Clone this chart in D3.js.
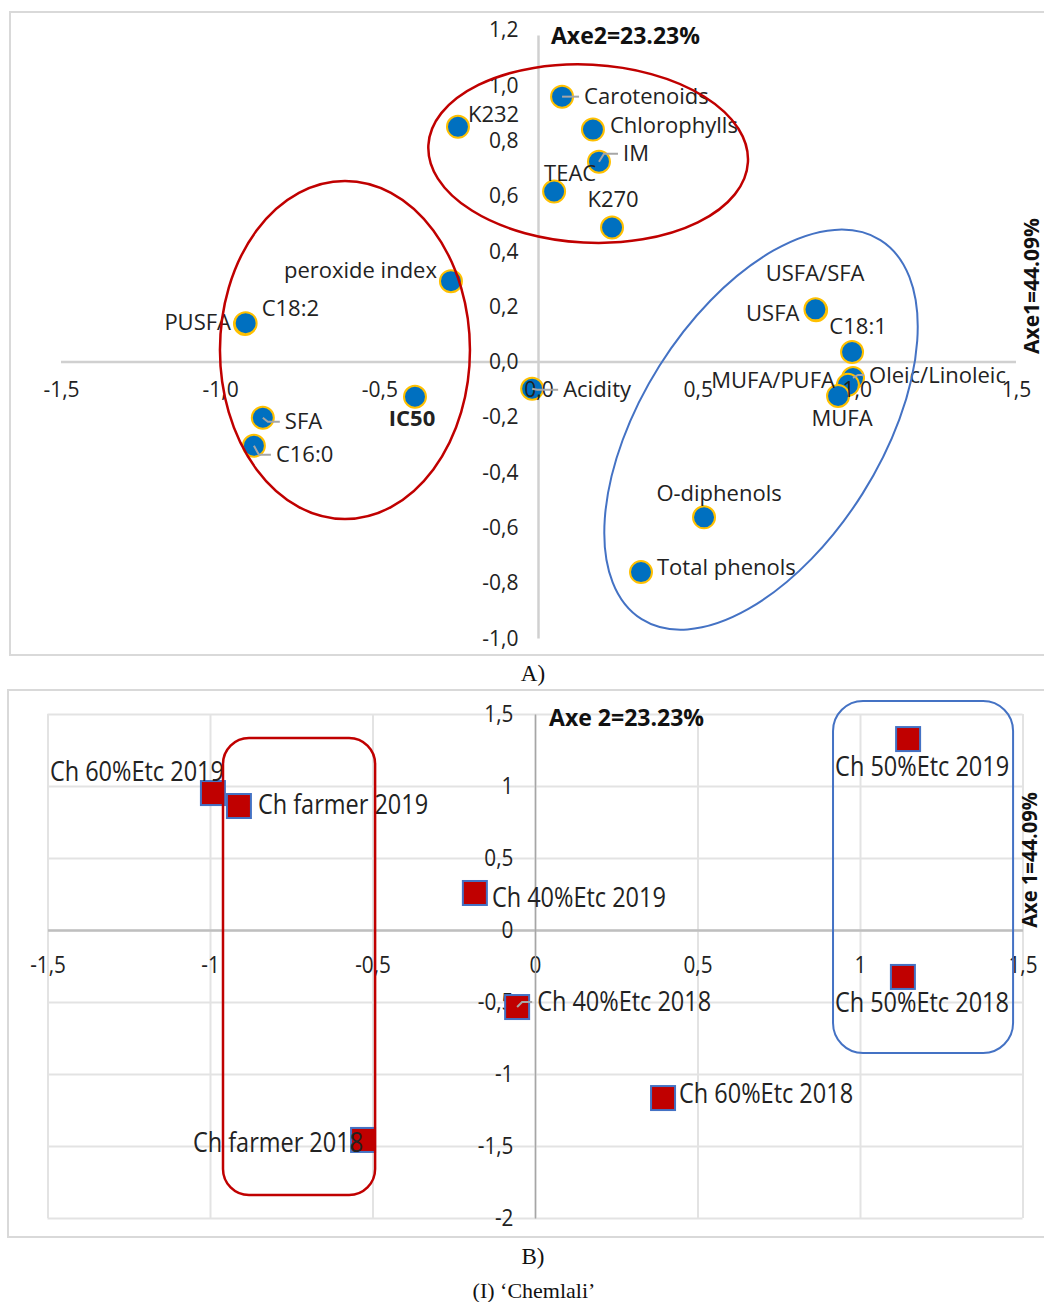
<!DOCTYPE html>
<html>
<head>
<meta charset="utf-8">
<script src="https://cdn.jsdelivr.net/npm/d3@7"></script>
<style>
  html, body { margin: 0; padding: 0; background: #fff; }
  svg { display: block; }
</style>
</head>
<body>
<svg id="chart" width="1044" height="1302"></svg>
<script>
// ---- Panel A: variable coordinates on the first two axes ----
const varNames = ["Carotenoids", "Chlorophylls", "IM", "TEAC", "K270", "K232",
  "peroxide index", "PUSFA", "C18:2", "SFA", "C16:0", "IC50", "Acidity",
  "USFA/SFA", "USFA", "C18:1", "Oleic/Linoleic", "MUFA/PUFA", "MUFA",
  "O-diphenols", "Total phenols"];
const varAxe1 = [0.074, 0.171, 0.190, 0.049, 0.231, -0.253,
  -0.275, -0.922, -0.920, -0.866, -0.894, -0.388, -0.020,
  0.872, 0.870, 0.985, 0.988, 0.972, 0.941,
  0.520, 0.322];
const varAxe2 = [0.959, 0.840, 0.724, 0.616, 0.486, 0.850,
  0.292, 0.137, 0.140, -0.202, -0.303, -0.126, -0.097,
  0.187, 0.190, 0.036, -0.058, -0.083, -0.123,
  -0.562, -0.760];

// ---- Panel B: sample coordinates ----
const sampleNames = ["Ch 60%Etc 2019", "Ch farmer 2019", "Ch 40%Etc 2019",
  "Ch 50%Etc 2019", "Ch 50%Etc 2018", "Ch 40%Etc 2018",
  "Ch 60%Etc 2018", "Ch farmer 2018"];
const sampleAxe1 = [-0.991, -0.911, -0.185, 1.148, 1.132, -0.055, 0.394, -0.529];
const sampleAxe2 = [0.951, 0.861, 0.257, 1.326, -0.326, -0.535, -1.167, -1.458];

// ---- Tick values ----
const ticksAx = [-1.5, -1.0, -0.5, 0.0, 0.5, 1.0, 1.5];
const ticksAy = [-1.0, -0.8, -0.6, -0.4, -0.2, 0.0, 0.2, 0.4, 0.6, 0.8, 1.0, 1.2];
const ticksBx = [-1.5, -1, -0.5, 0, 0.5, 1, 1.5];
const ticksBy = [-2, -1.5, -1, -0.5, 0, 0.5, 1, 1.5];

// ---- Axis titles and captions ----
const titleA2 = "Axe2=23.23%";
const titleA1 = "Axe1=44.09%";
const titleB2 = "Axe 2=23.23%";
const titleB1 = "Axe 1=44.09%";
const captionA = "A)";
const captionB = "B)";
const captionMain = "(I) \u2018Chemlali\u2019";

// Label placement for each point (anchor, offset in px, leader line, weight)
const varLabelLayout = {
  "Carotenoids":    {a: "start",  dx: 22, dy: 0,   leader: true},
  "Chlorophylls":   {a: "start",  dx: 17, dy: -4},
  "IM":             {a: "start",  dx: 24, dy: -8,  leader: true},
  "TEAC":           {a: "middle", dx: 16, dy: -18},
  "K270":           {a: "middle", dx: 1,  dy: -28},
  "K232":           {a: "start",  dx: 10, dy: -13},
  "peroxide index": {a: "end",    dx: -14, dy: -11},
  "PUSFA":          {a: "end",    dx: -14, dy: -2},
  "C18:2":          {a: "start",  dx: 16, dy: -15},
  "SFA":            {a: "start",  dx: 22, dy: 4,   leader: true},
  "C16:0":          {a: "start",  dx: 22, dy: 9,   leader: true},
  "IC50":           {a: "middle", dx: -3, dy: 22,  bold: true},
  "Acidity":        {a: "start",  dx: 31, dy: 1,   leader: true},
  "USFA/SFA":       {a: "middle", dx: -1, dy: -37},
  "USFA":           {a: "end",    dx: -16, dy: 4},
  "C18:1":          {a: "middle", dx: 6,  dy: -26},
  "Oleic/Linoleic": {a: "start",  dx: 16, dy: -3,  leader: true},
  "MUFA/PUFA":      {a: "end",    dx: -13, dy: -5},
  "MUFA":           {a: "middle", dx: 4,  dy: 22},
  "O-diphenols":    {a: "middle", dx: 15, dy: -24},
  "Total phenols":  {a: "start",  dx: 16, dy: -5}
};
const sampleLabelLayout = {
  "Ch 60%Etc 2019": {a: "end",    dx: 11, dy: -22},
  "Ch farmer 2019": {a: "start",  dx: 19, dy: -1},
  "Ch 40%Etc 2019": {a: "start",  dx: 17, dy: 5},
  "Ch 50%Etc 2019": {a: "middle", dx: 14, dy: 27},
  "Ch 50%Etc 2018": {a: "middle", dx: 19, dy: 26},
  "Ch 40%Etc 2018": {a: "start",  dx: 20, dy: -5, leader: true},
  "Ch 60%Etc 2018": {a: "start",  dx: 16, dy: -5},
  "Ch farmer 2018": {a: "end",    dx: 0,  dy: 3}
};

const svg = d3.select("#chart");
const FONT = "'Open Sans', 'Noto Sans', sans-serif";
const SERIF = "'Liberation Serif', 'DejaVu Serif', serif";
const TXT = "#222";

const commaLocale = d3.formatLocale({decimal: ",", thousands: ".", grouping: [3], currency: ["", ""], minus: "-"});
const fmtA = commaLocale.format(".1f");
const fmtB = commaLocale.format(".1~f");

function drawLabels(g, data, xs, ys, layout, size, squeeze) {
  data.forEach(d => {
    const L = layout[d.name];
    const px = xs(d.x), py = ys(d.y);
    const lx = px + L.dx, ly = py + L.dy;
    if (L.leader) {
      g.append("path")
        .attr("d", `M${px},${py}L${px + 5},${ly}L${lx - 5},${ly}`)
        .attr("fill", "none").attr("stroke", "#a6a6a6").attr("stroke-width", 2);
    }
    g.append("text")
      .attr("transform", `translate(${lx},${ly}) scale(${squeeze},1)`)
      .attr("text-anchor", L.a).attr("dy", "0.35em")
      .attr("font-family", FONT).attr("font-size", size)
      .attr("font-weight", L.bold ? 700 : 400)
      .attr("fill", TXT).text(d.name);
  });
}

// ================= Panel A =================
const gA = svg.append("g");
gA.append("rect").attr("x", 10).attr("y", 12).attr("width", 1040).attr("height", 643)
  .attr("fill", "none").attr("stroke", "#d9d9d9").attr("stroke-width", 2);

const xA = d3.scaleLinear().domain([-1.5, 1.5]).range([61, 1016]);
const yA = d3.scaleLinear().domain([-1.0, 1.2]).range([638.5, 30]);

// axis lines sit under the markers
gA.append("line").attr("x1", xA(-1.5)).attr("x2", xA(1.5)).attr("y1", yA(0)).attr("y2", yA(0))
  .attr("stroke", "#d0d0d0").attr("stroke-width", 2.5);
gA.append("line").attr("x1", xA(0)).attr("x2", xA(0)).attr("y1", yA(1.18)).attr("y2", yA(-1.0))
  .attr("stroke", "#d0d0d0").attr("stroke-width", 2.5);

const varData = varNames.map((n, i) => ({name: n, x: varAxe1[i], y: varAxe2[i]}));

gA.selectAll("circle.var").data(varData).join("circle")
  .attr("class", "var")
  .attr("cx", d => xA(d.x)).attr("cy", d => yA(d.y)).attr("r", 11)
  .attr("fill", "#0070C0").attr("stroke", "#FFC000").attr("stroke-width", 2);

// tick labels above the markers
const axAx = gA.append("g").attr("transform", `translate(0,${yA(0)})`)
  .call(d3.axisBottom(xA).tickValues(ticksAx).tickFormat(fmtA).tickSize(0).tickPadding(20));
const axAy = gA.append("g").attr("transform", `translate(${xA(0)},0)`)
  .call(d3.axisLeft(yA).tickValues(ticksAy).tickFormat(fmtA).tickSize(0).tickPadding(20));
[axAx, axAy].forEach(ax => {
  ax.select(".domain").remove();
  ax.selectAll("text").attr("font-family", FONT).attr("font-size", 21).attr("fill", TXT);
});

drawLabels(gA.append("g"), varData, xA, yA, varLabelLayout, 22, 1);

// Group outlines
const ringsA = [
  {cx: 0.156, cy: 0.753, rx: 160, ry: 89, rot: 3, color: "#C00000", w: 2.5},
  {cx: -0.608, cy: 0.043, rx: 125, ry: 169, rot: 0, color: "#C00000", w: 2.5},
  {cx: 0.699, cy: -0.245, rx: 224, ry: 120, rot: -57.8, color: "#4472C4", w: 2}
];
gA.selectAll("ellipse.grp").data(ringsA).join("ellipse")
  .attr("class", "grp")
  .attr("transform", d => `translate(${xA(d.cx)},${yA(d.cy)}) rotate(${d.rot})`)
  .attr("rx", d => d.rx).attr("ry", d => d.ry)
  .attr("fill", "none").attr("stroke", d => d.color).attr("stroke-width", d => d.w);

gA.append("text").attr("x", 551).attr("y", 36).attr("dy", "0.35em")
  .attr("font-family", FONT).attr("font-size", 23).attr("font-weight", 700)
  .attr("fill", "#111").text(titleA2);
gA.append("text").attr("transform", "translate(1039,286) rotate(-90)")
  .attr("text-anchor", "middle")
  .attr("font-family", FONT).attr("font-size", 21).attr("font-weight", 700)
  .attr("fill", "#111").text(titleA1);

svg.append("text").attr("x", 533).attr("y", 673).attr("dy", "0.35em")
  .attr("text-anchor", "middle").attr("font-family", SERIF).attr("font-size", 23)
  .attr("fill", "#111").text(captionA);

// ================= Panel B =================
const gB = svg.append("g");
gB.append("rect").attr("x", 8).attr("y", 690).attr("width", 1042).attr("height", 547)
  .attr("fill", "none").attr("stroke", "#d9d9d9").attr("stroke-width", 2);

const xB = d3.scaleLinear().domain([-1.5, 1.5]).range([47.5, 1022.5]);
const yB = d3.scaleLinear().domain([-2, 1.5]).range([1218, 714]);

// grid
gB.append("g").attr("transform", `translate(0,${yB(-2)})`)
  .call(d3.axisBottom(xB).tickValues(ticksBx).tickSize(-(yB(-2) - yB(1.5))).tickFormat(""))
  .call(g => g.select(".domain").remove())
  .call(g => g.selectAll("line").attr("stroke", "#e3e3e3").attr("stroke-width", 2));
gB.append("g").attr("transform", `translate(${xB(-1.5)},0)`)
  .call(d3.axisLeft(yB).tickValues(ticksBy).tickSize(-(xB(1.5) - xB(-1.5))).tickFormat(""))
  .call(g => g.select(".domain").remove())
  .call(g => g.selectAll("line").attr("stroke", "#e3e3e3").attr("stroke-width", 2));

const axBx = gB.append("g").attr("transform", `translate(0,${yB(0)})`)
  .call(d3.axisBottom(xB).tickValues(ticksBx).tickFormat(fmtB).tickSize(0).tickSizeOuter(0).tickPadding(27));
const axBy = gB.append("g").attr("transform", `translate(${xB(0)},0)`)
  .call(d3.axisLeft(yB).tickValues(ticksBy).tickFormat(fmtB).tickSize(0).tickSizeOuter(0).tickPadding(24));
axBx.select(".domain").attr("stroke", "#bfbfbf").attr("stroke-width", 2.5);
axBy.select(".domain").attr("stroke", "#a6a6a6").attr("stroke-width", 1.5);
[axBx, axBy].forEach(ax => {
  ax.selectAll("text").attr("font-family", FONT).attr("font-size", 23).attr("fill", TXT)
    .attr("transform", "scale(0.9,1)");
});

const sampleData = sampleNames.map((n, i) => ({name: n, x: sampleAxe1[i], y: sampleAxe2[i]}));
gB.selectAll("rect.smp").data(sampleData).join("rect")
  .attr("class", "smp")
  .attr("x", d => xB(d.x) - 12).attr("y", d => yB(d.y) - 12)
  .attr("width", 24).attr("height", 24)
  .attr("fill", "#C00000").attr("stroke", "#4472C4").attr("stroke-width", 2);

drawLabels(gB.append("g"), sampleData, xB, yB, sampleLabelLayout, 27, 0.87);

const boxesB = [
  {x0: -0.960, x1: -0.492, y0: 1.333, y1: -1.840, r: 26, color: "#C00000", w: 2.5},
  {x0: 0.917, x1: 1.471, y0: 1.590, y1: -0.854, r: 30, color: "#4472C4", w: 2}
];
gB.selectAll("rect.grp").data(boxesB).join("rect")
  .attr("class", "grp")
  .attr("x", d => xB(d.x0)).attr("y", d => yB(d.y0))
  .attr("width", d => xB(d.x1) - xB(d.x0)).attr("height", d => yB(d.y1) - yB(d.y0))
  .attr("rx", d => d.r).attr("ry", d => d.r)
  .attr("fill", "none").attr("stroke", d => d.color).attr("stroke-width", d => d.w);

gB.append("text").attr("transform", "translate(549,718) scale(0.96,1)").attr("dy", "0.35em")
  .attr("font-family", FONT).attr("font-size", 24).attr("font-weight", 700)
  .attr("fill", "#111").text(titleB2);
gB.append("text").attr("transform", "translate(1037,860) rotate(-90) scale(0.96,1)")
  .attr("text-anchor", "middle")
  .attr("font-family", FONT).attr("font-size", 21).attr("font-weight", 700)
  .attr("fill", "#111").text(titleB1);

svg.append("text").attr("x", 533).attr("y", 1256).attr("dy", "0.35em")
  .attr("text-anchor", "middle").attr("font-family", SERIF).attr("font-size", 23)
  .attr("fill", "#111").text(captionB);
svg.append("text").attr("x", 534).attr("y", 1290).attr("dy", "0.35em")
  .attr("text-anchor", "middle").attr("font-family", SERIF).attr("font-size", 22)
  .attr("fill", "#111").text(captionMain);
</script>
</body>
</html>
